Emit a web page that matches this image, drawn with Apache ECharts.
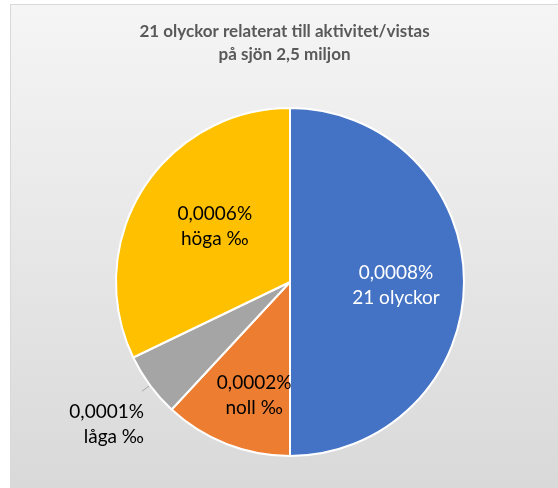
<!DOCTYPE html>
<html>
<head>
<meta charset="utf-8">
<script src="https://cdn.jsdelivr.net/npm/echarts@6/dist/echarts.min.js"></script>
<style>
  html, body { margin: 0; padding: 0; background: #fff; }
  #chart { position: absolute; left: 10px; top: 4px; width: 547px; height: 483px; border: 1px solid #d9d9d9; border-right: none; border-bottom: none; }
</style>
</head>
<body>
<div id="chart"></div>
<script>
const categories = ['21 olyckor', 'noll ‰', 'låga ‰', 'höga ‰'];
const values = [0.00084, 0.0002, 0.0001, 0.00054];
const percentLabels = ['0,0008%', '0,0002%', '0,0001%', '0,0006%'];
const colors = ['#4472C4', '#ED7D31', '#A5A5A5', '#FFC000'];

const chart = echarts.init(document.getElementById('chart'));

// label tweaks per slice (Excel puts inside labels a bit further out)
const labelStyles = [
  { position: 'inside', color: '#fff', offset: [16, 3] },
  { position: 'inside', color: '#000', offset: [-3, 30] },
  { position: 'outside', color: '#000' },
  { position: 'inside', color: '#000', offset: [1, -8] },
];

const options = {
  backgroundColor: {
    type: 'linear', x: 0, y: 0, x2: 0, y2: 1,
    colorStops: [
      { offset: 0, color: '#f5f5f5' },
      { offset: 1, color: '#d9d9d9' },
    ],
  },
  title: {
    text: '21 olyckor relaterat till aktivitet/vistas\npå sjön 2,5 miljon',
    left: 'center',
    top: 10,
    textStyle: {
      fontFamily: 'Lato',
      fontWeight: 'bold',
      fontSize: 17,
      lineHeight: 23,
      color: '#595959',
    },
  },
  series: [
    {
      type: 'pie',
      center: [279, 277],
      radius: 174,
      startAngle: 90,
      clockwise: true,
      avoidLabelOverlap: false,
      itemStyle: { borderColor: '#fff', borderWidth: 2 },
      label: {
        fontFamily: 'Lato',
        fontSize: 19,
        lineHeight: 25,
        formatter: p => percentLabels[p.dataIndex] + '\n' + p.name,
      },
      labelLine: {
        length: 10,
        length2: 0,
        lineStyle: { color: '#a6a6a6', width: 1 },
      },
      labelLayout: p => p.dataIndex === 2 ? { dx: 7, dy: 33 } : {},
      data: categories.map((name, i) => ({
        name,
        value: values[i],
        itemStyle: { color: colors[i] },
        label: labelStyles[i],
      })),
    },
  ],
};

chart.setOption(options);
</script>
</body>
</html>
